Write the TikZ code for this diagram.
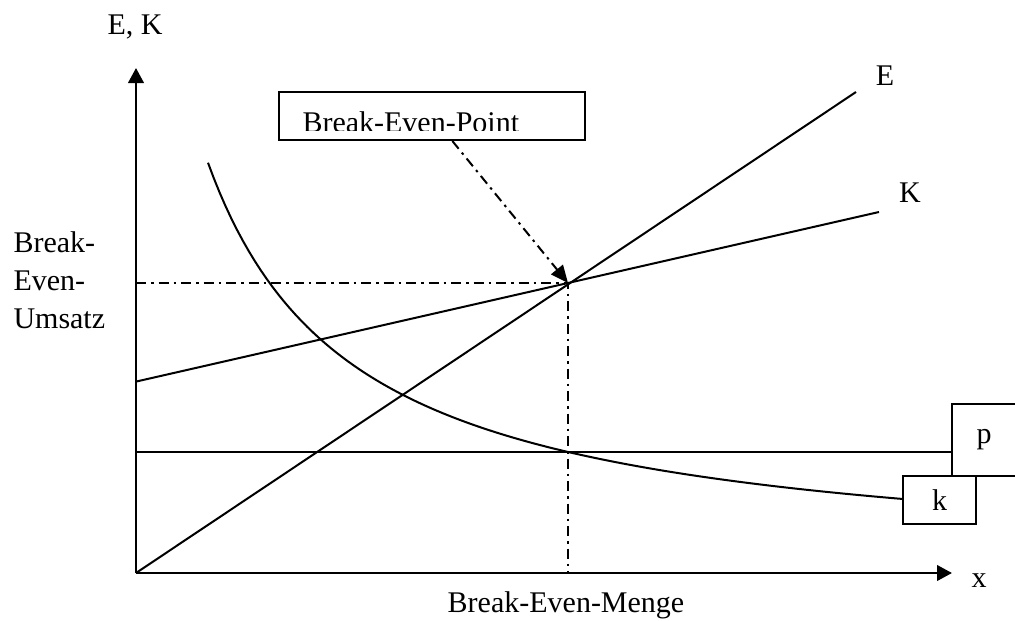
\documentclass[tikz,border=0pt]{standalone}
\usepackage{fontspec}
\setmainfont{Liberation Serif}
\usetikzlibrary{arrows.meta}

\begin{document}
\begin{tikzpicture}[x=0.4pt, y=-0.4pt]
        \tikzstyle{every node}=[inner sep=0pt, font=\fontsize{12}{15.2}\selectfont, text=black]
        \tikzstyle{line}=[black, line width=0.8pt]
        \tikzstyle{axis}=[black, line width=1pt, -{Triangle[length=6pt, width=6.2pt]}]
        \tikzstyle{guide}=[black, line width=0.8pt, dash pattern=on 4pt off 2pt on 1pt off 2pt]
        \tikzstyle{labelbox}=[rectangle, draw=black, line width=0.8pt, fill=white]

        \useasboundingbox (0,0) rectangle (1015,621);

        \coordinate (o)       at (136,573);
        \coordinate (ytip)    at (136,68);
        \coordinate (xtip)    at (952,573);
        \coordinate (bepoint) at (568,283);
        \coordinate (eend)    at (856,92);
        \coordinate (kstart)  at (136,381.6);
        \coordinate (kend)    at (879,212);
        \coordinate (pstart)  at (136,452);

        \node (ek)     at (135,27)  {E, K};
        \node (elabel) at (885,76)  {E};
        \node (klabel) at (910,193) {K};
        \node (xlabel) at (979,581) {x};
        \node (menge)  at (566,605) {Break-Even-Menge};
        \node[anchor=west, align=left] (umsatz) at (13,280) {Break-\\Even-\\Umsatz};

        \node[labelbox, minimum width=25.6pt, minimum height=28.8pt] (pbox) at (984,440) {p};
        \node[labelbox, minimum width=29.2pt, minimum height=19.2pt] (kbox) at (939.5,500) {k};
        \node[labelbox, minimum width=122.4pt, minimum height=19.2pt] (bep) at (432,116) {};
        \begin{scope}
            \clip (279,92) rectangle (585,130);
            \node[anchor=base west] (beptext) at (302,132) {Break-Even-Point};
        \end{scope}

        \draw[axis] (o) -- (ytip);
        \draw[axis] (o) -- (xtip);

        \draw[line] (o) -- (eend);
        \draw[line] (kstart) -- (kend);
        \draw[line] (pstart) -- (pstart -| pbox.west);
        \draw[line] plot[domain=208:903, samples=120] (\x, {570.2 - 599.35/(0.01*\x - 0.608)});

        \draw[guide] (o |- bepoint) -- (bepoint) -- (bepoint |- o);
        \draw[guide, -{Triangle[length=7pt, width=6pt]}] (bep) -- (bepoint);
\end{tikzpicture}
\end{document}
